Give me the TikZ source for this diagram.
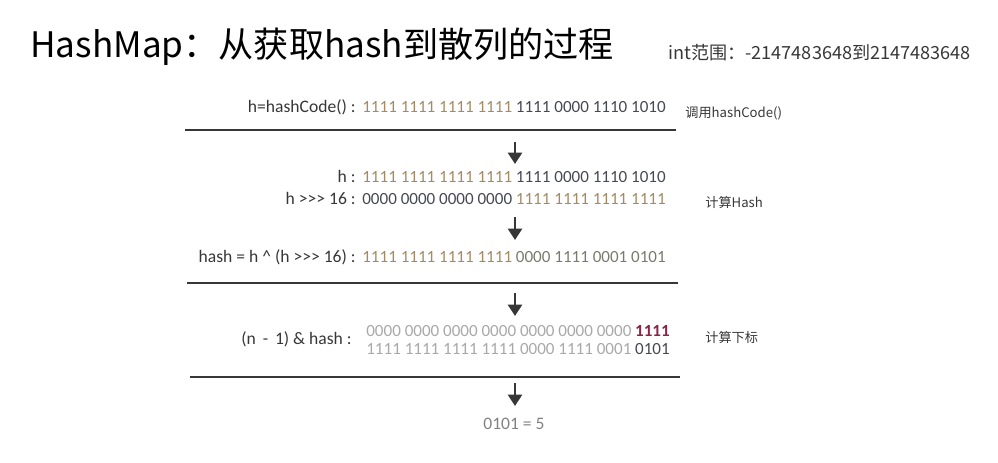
\documentclass[tikz,border=0pt]{standalone}
\usepackage{fontspec}
\setmainfont{Carlito}
\newfontfamily\cjk{Noto Sans CJK SC}
\usetikzlibrary{arrows.meta}
\definecolor{bittan}{RGB}{164,138,98}
\definecolor{bitdark}{RGB}{70,72,82}
\definecolor{bitolive}{RGB}{122,122,110}
\definecolor{bitlight}{RGB}{168,168,168}
\definecolor{bitred}{RGB}{140,36,72}
\definecolor{mydark}{RGB}{55,55,55}
\definecolor{mygray}{RGB}{130,130,130}
\tikzset{
  headline/.style={anchor=mid west, inner sep=0pt, text=black,
    font=\cjk\fontsize{20}{24}\selectfont},
  rangetxt/.style={anchor=mid west, inner sep=0pt, text=mydark,
    font=\cjk\fontsize{10.3}{12}\selectfont},
  lbl/.style={anchor=mid east, inner sep=0pt, text=mydark,
    font=\fontsize{10}{12}\selectfont},
  bits/.style={anchor=mid west, inner sep=0pt, text=bitdark,
    font=\fontsize{9.7}{12}\selectfont},
  sidenote/.style={anchor=mid west, inner sep=0pt, text=mydark,
    font=\cjk\fontsize{7.5}{9}\selectfont},
  hrule/.style={line width=1.1pt, color=mydark},
  arrow/.style={-{Triangle[width=8pt,length=6.5pt]}, line width=1.5pt, color=mydark}
}

\begin{document}
\begin{tikzpicture}[x=0.02cm, y=-0.02cm]
  \useasboundingbox (0,0) rectangle (998,463);

  % Title and range
  \node[headline] (ttl) at (30,53) {HashMap：从获取hash到散列的过程};
  \node[rangetxt] (rng) at (668,55) {int范围：-2147483648到2147483648};

  % Step 1: hashCode
  \node[lbl] (r1lbl) at (356,108) {h=hashCode() :};
  \node[bits] (r1) at (362,108) {\textcolor{bittan}{1111 1111 1111 1111} 1111 0000 1110 1010};
  \node[sidenote] (n1) at (685,113) {调用hashCode()};
  \coordinate (l1a) at (185,130);
  \coordinate (l1b) at (676,130);
  \draw[hrule] (l1a) -- (l1b);

  % Step 2: h and h >>> 16
  \coordinate (a1s) at (515,142);
  \coordinate (a1e) at (515,164);
  \draw[arrow] (a1s) -- (a1e);
  \node[lbl] (r2albl) at (356,178) {h :};
  \node[bits] (r2a) at (362,178) {\textcolor{bittan}{1111 1111 1111 1111} 1111 0000 1110 1010};
  \node[lbl] (r2blbl) at (356,200) {h >{}>{}> 16 :};
  \node[bits] (r2b) at (362,200) {0000 0000 0000 0000 \textcolor{bittan}{1111 1111 1111 1111}};
  \node[sidenote] (n2) at (705,203) {计算Hash};

  % Step 3: xor
  \coordinate (a2s) at (515,217);
  \coordinate (a2e) at (515,240);
  \draw[arrow] (a2s) -- (a2e);
  \node[lbl] (r3lbl) at (356,258) {hash = h \^{} (h >{}>{}> 16) :};
  \node[bits, text=bitolive] (r3) at (362,258) {\textcolor{bittan}{1111 1111 1111 1111} 0000 1111 0001 0101};
  \coordinate (l2a) at (187,283);
  \coordinate (l2b) at (678,283);
  \draw[hrule] (l2a) -- (l2b);

  % Step 4: index
  \coordinate (a3s) at (515,293);
  \coordinate (a3e) at (515,316);
  \draw[arrow] (a3s) -- (a3e);
  \node[lbl] (r4lbl) at (352,340) {(n \,-\, 1) \& hash :};
  \node[bits, text=bitlight] (r4a) at (366,332) {0000 0000 0000 0000 0000 0000 0000 \textcolor{bitred}{\bfseries 1111}};
  \node[bits, text=bitlight] (r4b) at (366,350) {1111 1111 1111 1111 0000 1111 0001 \textcolor{bitdark}{0101}};
  \node[sidenote] (n3) at (705,338) {计算下标};
  \coordinate (l3a) at (190,377);
  \coordinate (l3b) at (680,377);
  \draw[hrule] (l3a) -- (l3b);

  % Result
  \coordinate (a4s) at (515,383);
  \coordinate (a4e) at (515,406);
  \draw[arrow] (a4s) -- (a4e);
  \node[lbl, anchor=center, text=mygray] (res) at (514,424) {0101 = 5};
\end{tikzpicture}
\end{document}
